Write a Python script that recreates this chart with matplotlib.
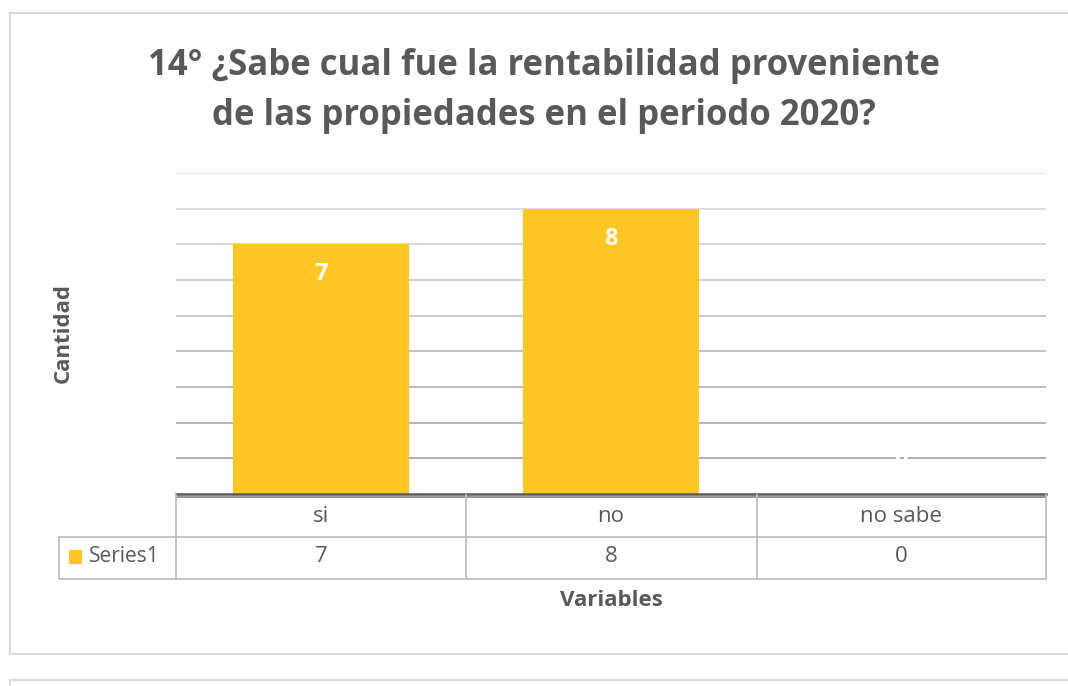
import matplotlib
matplotlib.use("Agg")
import matplotlib.pyplot as plt
from matplotlib.lines import Line2D
from matplotlib.patches import Rectangle
import matplotlib.transforms as mtrans

# data
categories = ["si", "no", "no sabe"]
values = [7, 8, 0]
series_name = "Series1"
title_lines = ["14° ¿Sabe cual fue la rentabilidad proveniente",
               "de las propiedades en el periodo 2020?"]
y_label = "Cantidad"
x_label = "Variables"

W, H = 1068, 686
BAR = "#FFC726"
TXT = "#595959"
GRID_TOP = 0.90   # lightest gridline grey
GRID_BOT = 0.68   # darkest gridline grey

plt.rcParams['font.family'] = ['Open Sans', 'DejaVu Sans']

fig = plt.figure(figsize=(W / 100, H / 100), dpi=100)
fig.patch.set_facecolor("white")


def fx(px):
    return px / W


def fy(py):
    return 1 - py / H


# plot area
ax = fig.add_axes([fx(176), fy(494), fx(1046) - fx(176), fy(173) - fy(494)])
ax.set_xlim(-0.5, len(categories) - 0.5)
ax.set_ylim(0, 9)
for s in ax.spines.values():
    s.set_visible(False)
ax.set_xticks([])
ax.set_yticks([])
ax.patch.set_alpha(0)

# gridlines, darker toward the bottom like the screenshot
for k in range(1, 10):
    g = GRID_BOT + (GRID_TOP - GRID_BOT) * (k - 1) / 8
    ax.axhline(k, color=(g, g, g), lw=1.4, zorder=0)

x = list(range(len(categories)))
ax.bar(x, values, width=0.607, color=BAR, zorder=2)

for xi, v in zip(x, values):
    yl = v - 0.84 if v > 0 else v + 1
    ax.text(xi, yl, str(v), ha="center", va="center", color="white",
            fontsize=17, fontweight="bold", zorder=3)

# axis line (double)
fig.add_artist(Line2D([fx(176), fx(1046)], [fy(493.5), fy(493.5)],
                      color="#595959", lw=1.8))

# data table
tc = "#BFBFBF"
lw = 1.3
fig.add_artist(Line2D([fx(176), fx(1046)], [fy(497), fy(497)], color="#8C8C8C", lw=lw))
fig.add_artist(Line2D([fx(59), fx(1046)], [fy(537), fy(537)], color=tc, lw=lw))
fig.add_artist(Line2D([fx(59), fx(1046)], [fy(579), fy(579)], color=tc, lw=lw))
for px in [176, 466, 757, 1046]:
    fig.add_artist(Line2D([fx(px), fx(px)], [fy(495), fy(579)], color=tc, lw=lw))
fig.add_artist(Line2D([fx(59), fx(59)], [fy(537), fy(579)], color=tc, lw=lw))

blend = mtrans.blended_transform_factory(ax.transData, fig.transFigure)
for xi, c, v in zip(x, categories, values):
    fig.text(xi, fy(517), c, transform=blend, ha="center", va="center",
             color=TXT, fontsize=16)
    fig.text(xi, fy(557), str(v), transform=blend, ha="center", va="center",
             color=TXT, fontsize=16)

fig.add_artist(Rectangle((fx(69), fy(564)), fx(13), fy(550) - fy(564),
                         color=BAR, lw=0))
fig.text(fx(89), fy(557), series_name, ha="left", va="center",
         color=TXT, fontsize=15)

# titles / labels
fig.text(fx(544), fy(75), title_lines[0], ha="center", va="baseline",
         color=TXT, fontsize=25, fontweight="bold")
fig.text(fx(544), fy(125), title_lines[1], ha="center", va="baseline",
         color=TXT, fontsize=25, fontweight="bold")
fig.text(fx(63), fy(333), y_label, ha="center", va="center", rotation=90,
         color=TXT, fontsize=16, fontweight="bold")
fig.text(fx(611), fy(601), x_label, ha="center", va="center",
         color=TXT, fontsize=16, fontweight="bold")

# chart borders
bc = "#D9D9D9"
fig.add_artist(Line2D([fx(10), fx(1068)], [fy(13), fy(13)], color=bc, lw=1.5))
fig.add_artist(Line2D([fx(10), fx(10)], [fy(13), fy(654)], color=bc, lw=1.5))
fig.add_artist(Line2D([fx(10), fx(1068)], [fy(654), fy(654)], color=bc, lw=1.5))
fig.add_artist(Line2D([fx(10), fx(1068)], [fy(680), fy(680)], color=bc, lw=1.5))
fig.add_artist(Line2D([fx(10), fx(10)], [fy(680), fy(686)], color=bc, lw=1.5))

fig.savefig("out.png", dpi=100)
